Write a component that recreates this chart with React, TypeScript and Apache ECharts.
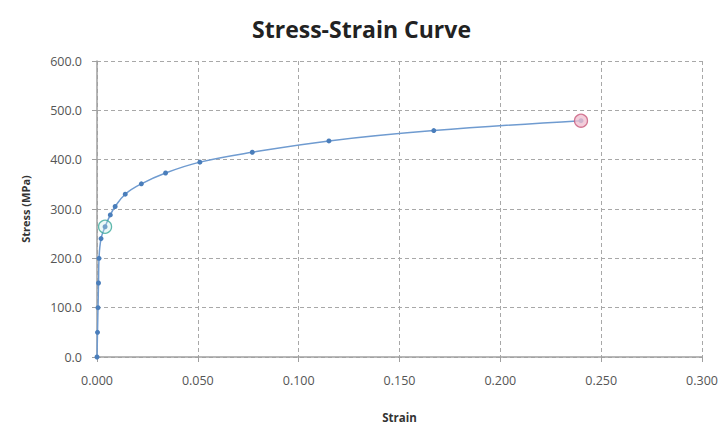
import React, { useEffect, useRef } from "react";
import * as echarts from "echarts";

const strain = [0, 0.00025, 0.0005, 0.00075, 0.001, 0.002, 0.004, 0.0066, 0.009, 0.014, 0.022, 0.034, 0.051, 0.077, 0.115, 0.167, 0.24];
const stress = [0, 50, 100, 150, 200, 240, 264, 288, 305, 330, 351, 373, 395, 415, 438, 459, 479];
const yieldPoint = [0.004, 264];
const ultimatePoint = [0.24, 479];
const xTicks = { min: 0, max: 0.3, interval: 0.05 };
const yTicks = { min: 0, max: 600, interval: 100 };

export default function App() {
  const ref = useRef<HTMLDivElement>(null);
  useEffect(() => {
    document.body.style.margin = "0";
    const chart = echarts.init(ref.current!, null, { renderer: "svg" });
    const font = "'Open Sans', 'Liberation Sans', sans-serif";
    const gridLine = { show: true, lineStyle: { color: "#a8a8a8", type: [4, 3] as any, width: 1 } };
    chart.setOption({
      animation: false,
      backgroundColor: "#fff",
      title: {
        text: "Stress-Strain Curve",
        left: "center",
        top: 12,
        textStyle: { fontFamily: font, fontSize: 23, fontWeight: "bold", color: "#222" },
      },
      grid: { left: 97, right: 21, top: 61, bottom: 73 },
      xAxis: {
        type: "value",
        ...xTicks,
        name: "Strain",
        nameLocation: "middle",
        nameGap: 54,
        nameTextStyle: { fontFamily: font, fontSize: 11.5, fontWeight: "bold", color: "#333" },
        axisLine: { show: true, lineStyle: { color: "#a0a0a0", width: 1.5 } },
        axisTick: { show: true, length: 5, lineStyle: { color: "#a0a0a0" } },
        axisLabel: { margin: 17, fontFamily: font, fontSize: 12.5, color: "#555", formatter: (v: number) => v.toFixed(3) },
        splitLine: gridLine,
      },
      yAxis: {
        type: "value",
        ...yTicks,
        name: "Stress (MPa)",
        nameLocation: "middle",
        nameGap: 66,
        nameTextStyle: { fontFamily: font, fontSize: 11, fontWeight: "bold", color: "#333" },
        axisLine: { show: true, lineStyle: { color: "#a0a0a0", width: 1.5 } },
        axisTick: { show: true, length: 5, lineStyle: { color: "#a0a0a0" } },
        axisLabel: { margin: 15, fontFamily: font, fontSize: 12.5, color: "#555", formatter: (v: number) => v.toFixed(1) },
        splitLine: gridLine,
      },
      series: [
        {
          type: "line",
          data: strain.map((s, i) => [s, stress[i]]),
          smooth: 0.4,
          symbol: "circle",
          symbolSize: 5,
          itemStyle: { color: "#4a7ebb" },
          lineStyle: { color: "#6f9bd0", width: 1.5 },
          z: 2,
        },
        {
          type: "scatter",
          data: [yieldPoint],
          symbol: "circle",
          symbolSize: 13,
          itemStyle: { color: "rgba(200,235,230,0.4)", borderColor: "#3aa89a", borderWidth: 1.3 },
          z: 3,
        },
        {
          type: "scatter",
          data: [ultimatePoint],
          symbol: "circle",
          symbolSize: 13,
          itemStyle: { color: "#f0c2d2", borderColor: "#c85a7c", borderWidth: 1.3 },
          z: 3,
        },
      ],
    });
    return () => chart.dispose();
  }, []);
  return <div ref={ref} style={{ width: 723, height: 430 }} />;
}
